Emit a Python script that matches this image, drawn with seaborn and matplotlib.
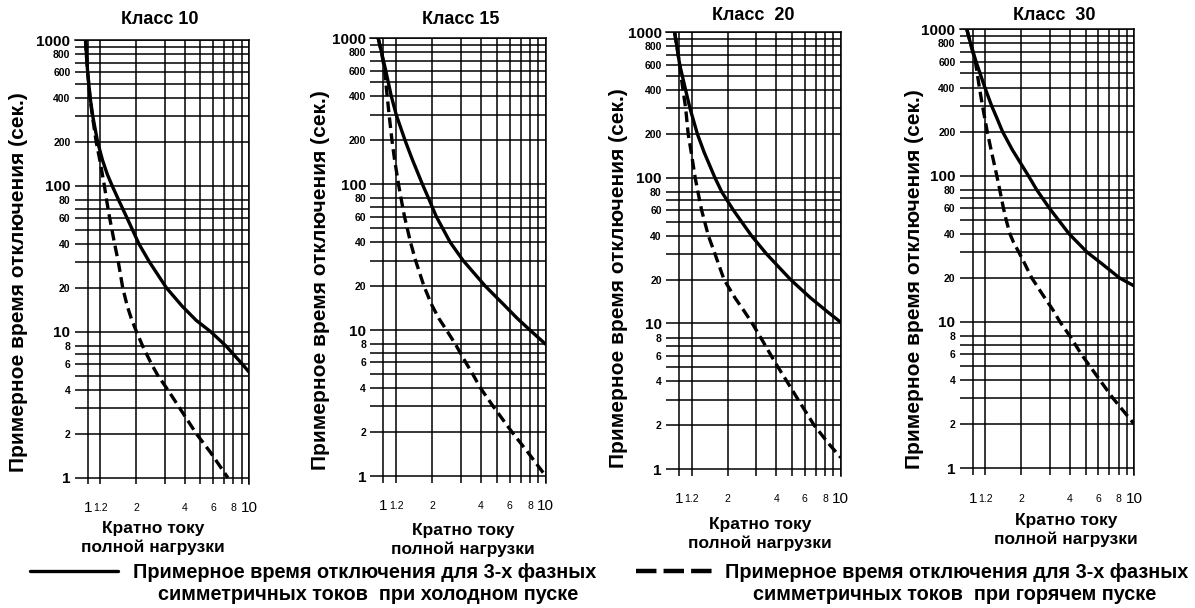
import matplotlib
matplotlib.use("Agg")
import matplotlib.pyplot as plt
import seaborn as sns
import pandas as pd
from matplotlib.ticker import FixedLocator, FixedFormatter, NullLocator
from matplotlib.lines import Line2D

# ---------------- data ----------------
titles = ["Класс 10", "Класс 15", "Класс  20", "Класс  30"]

c10_cold_y = [1000, 800, 600, 400, 300, 200, 150, 120, 100, 80, 60, 40, 30, 20, 15, 12, 10, 8, 6, 5.3]
c10_cold_x = [0.97, 0.982, 1.0, 1.037, 1.076, 1.153, 1.236, 1.324, 1.42, 1.556, 1.758, 2.08, 2.42, 3.08, 3.85, 4.7, 5.8, 7.2, 9.1, 10]
c10_hot_y = [1000, 800, 600, 400, 300, 200, 150, 100, 80, 60, 40, 30, 20, 15, 12, 10, 8, 6, 5, 4, 3, 2, 1.5, 1]
c10_hot_x = [0.97, 0.982, 1.0, 1.035, 1.07, 1.13, 1.19, 1.27, 1.31, 1.37, 1.47, 1.55, 1.65, 1.76, 1.88, 2.01, 2.19, 2.49, 2.73, 3.14, 3.72, 4.72, 5.75, 7.4]

c15_cold_y = [1000, 800, 600, 400, 300, 200, 150, 100, 80, 60, 40, 30, 20, 15, 12, 10, 8]
c15_cold_x = [0.93, 0.975, 1.035, 1.12, 1.20, 1.36, 1.50, 1.74, 1.90, 2.12, 2.58, 3.10, 4.25, 5.5, 6.7, 8.0, 10]
c15_hot_y = [1000, 800, 600, 450, 300, 200, 150, 100, 80, 60, 40, 30, 20, 15, 12, 10, 8, 6, 5, 4, 3, 2, 1.5, 1]
c15_hot_x = [0.93, 0.975, 1.02, 1.045, 1.085, 1.13, 1.17, 1.24, 1.285, 1.35, 1.47, 1.58, 1.78, 1.98, 2.2, 2.45, 2.78, 3.22, 3.55, 3.97, 4.75, 6.2, 7.6, 10]

c20_cold_y = [1000, 800, 600, 400, 300, 200, 150, 100, 80, 60, 40, 30, 20, 15, 12, 10.2]
c20_cold_x = [0.94, 0.97, 1.01, 1.10, 1.17, 1.30, 1.43, 1.67, 1.84, 2.17, 2.81, 3.48, 4.9, 6.5, 8.3, 10]
c20_hot_y = [1000, 800, 600, 500, 400, 300, 200, 150, 100, 80, 60, 40, 30, 20, 15, 12, 10, 8, 6, 5, 4, 3, 2, 1.5, 1.2]
c20_hot_x = [0.94, 0.97, 1.01, 1.03, 1.06, 1.10, 1.14, 1.19, 1.26, 1.31, 1.38, 1.52, 1.67, 1.90, 2.22, 2.55, 2.84, 3.2, 3.72, 4.1, 4.65, 5.45, 6.85, 8.4, 10]

c30_cold_y = [1000, 800, 600, 400, 300, 250, 200, 150, 100, 80, 60, 40, 30, 25, 20, 17.6]
c30_cold_x = [0.92, 0.97, 1.05, 1.19, 1.31, 1.406, 1.53, 1.76, 2.21, 2.49, 2.98, 3.95, 5.1, 6.3, 8.1, 10]
c30_hot_y = [1000, 800, 600, 400, 300, 200, 150, 100, 80, 60, 50, 40, 35, 30, 25, 20, 15, 12, 10, 8, 6, 5, 4, 3, 2]
c30_hot_x = [0.92, 0.97, 1.04, 1.10, 1.15, 1.23, 1.30, 1.41, 1.47, 1.55, 1.61, 1.70, 1.79, 1.93, 2.10, 2.32, 2.75, 3.15, 3.47, 4.0, 4.71, 5.3, 6.13, 7.4, 10]

y_ticks = [1, 2, 3, 4, 5, 6, 7, 8, 10, 20, 30, 40, 50, 60, 70, 80,
           100, 200, 300, 400, 500, 600, 700, 800, 900, 1000]
y_ticklabels = ["1", "2", "", "4", "", "6", "", "8", "10", "20", "", "40", "", "60", "", "80",
                "100", "200", "", "400", "", "600", "", "800", "", "1000"]
x_ticks = [1, 1.2, 2, 3, 4, 5, 6, 7, 8, 9, 10]
x_ticklabels = ["1", "1.2", "2", "", "4", "", "6", "", "8", "", "10"]
big_labels = ["1", "10", "100", "1000"]

y_label = "Примерное время отключения (сек.)"
x_label = "Кратно току\nполной нагрузки"
legend_cold = ["Примерное время отключения для 3-х фазных", "симметричных токов  при холодном пуске"]
legend_hot = ["Примерное время отключения для 3-х фазных", "симметричных токов  при горячем пуске"]

curves = [
    (c10_cold_x, c10_cold_y, c10_hot_x, c10_hot_y),
    (c15_cold_x, c15_cold_y, c15_hot_x, c15_hot_y),
    (c20_cold_x, c20_cold_y, c20_hot_x, c20_hot_y),
    (c30_cold_x, c30_cold_y, c30_hot_x, c30_hot_y),
]

# ---------------- layout (pixels) ----------------
W, H = 1195, 608
panel_px = [(74.6, 249.0, 40.0, 484.4),
            (370.2, 545.7, 38.3, 482.7),
            (665.9, 840.7, 32.3, 475.7),
            (959.6, 1134.3, 29.3, 475.0)]
title_px = [(160, 20), (461, 20), (753, 15), (1054, 15)]
ylab_px = [(19, 282), (320, 280), (618, 278), (914, 279)]
xlab_px = [(153, 538), (463, 540), (760, 534), (1066, 530)]


def fx(x):
    return x / W


def fy(y):
    return 1 - y / H


sns.set_theme(style="white")
plt.rcParams["font.family"] = ["Liberation Sans", "DejaVu Sans"]
for key in ["text.color", "axes.labelcolor", "xtick.color", "ytick.color"]:
    plt.rcParams[key] = "black"

fig = plt.figure(figsize=(W / 100, H / 100), dpi=100)
fig.patch.set_facecolor("white")

for i in range(4):
    l, r, t, b = panel_px[i]
    ax = fig.add_axes([fx(l), fy(b), (r - l) / W, (b - t) / H])
    cx, cy, hx, hy = curves[i]
    df = pd.concat([
        pd.DataFrame({"x": cx, "y": cy, "mode": "cold"}),
        pd.DataFrame({"x": hx, "y": hy, "mode": "hot"}),
    ], ignore_index=True)
    sns.lineplot(data=df, x="x", y="y", style="mode", style_order=["cold", "hot"],
                 dashes={"cold": "", "hot": (3.2, 1.6)}, color="black", linewidth=2.4,
                 estimator=None, sort=False, legend=False, ax=ax, zorder=3)
    ax.set_xscale("log")
    ax.set_yscale("log")
    ax.set_xlim(0.83, 10)
    ax.set_ylim(0.9, 1000)
    ax.xaxis.set_major_locator(FixedLocator(x_ticks))
    ax.xaxis.set_major_formatter(FixedFormatter(x_ticklabels))
    ax.xaxis.set_minor_locator(NullLocator())
    ax.yaxis.set_major_locator(FixedLocator(y_ticks))
    ax.yaxis.set_major_formatter(FixedFormatter(y_ticklabels))
    ax.yaxis.set_minor_locator(NullLocator())
    ax.grid(True, which="major", color="black", linewidth=1.1)
    ax.set_axisbelow(True)
    for side in ["left", "bottom"]:
        ax.spines[side].set_visible(False)
    for side in ["top", "right"]:
        ax.spines[side].set_visible(True)
        ax.spines[side].set_color("black")
        ax.spines[side].set_linewidth(1.1)
    ax.set_xlabel("")
    ax.set_ylabel("")
    ax.tick_params(axis="both", length=0)
    ax.tick_params(axis="y", pad=3)
    ax.tick_params(axis="x", pad=17)
    fig.canvas.draw()
    for lab in ax.get_yticklabels():
        if lab.get_text() in big_labels:
            lab.set_fontsize(11)
        else:
            lab.set_fontsize(7.5)
        lab.set_fontweight("bold")
        lab.set_color("black")
    for lab in ax.get_xticklabels():
        lab.set_va("center")
        if lab.get_text() in big_labels:
            lab.set_fontsize(11)
        else:
            lab.set_fontsize(7.5)
        lab.set_color("black")

    tx, ty = title_px[i]
    fig.text(fx(tx), fy(ty), titles[i], ha="center", va="center",
             fontsize=13, fontweight="bold", color="black")
    lx, ly = ylab_px[i]
    fig.text(fx(lx), fy(ly), y_label, ha="center", va="center", rotation=90,
             fontsize=15, fontweight="bold", color="black")
    xx, xy = xlab_px[i]
    fig.text(fx(xx), fy(xy), x_label, ha="center", va="center", multialignment="center",
             fontsize=12.5, fontweight="bold", color="black", linespacing=1.25)

# ---------------- legend ----------------
fs = 14.3
fs_px = fs * 100 / 72
h_cold = Line2D([], [], color="black", linewidth=2.4)
h_hot = Line2D([], [], color="black", linewidth=3.2, dashes=(4.6, 1.6))
leg1 = fig.legend([h_cold], [legend_cold[0]], loc="center left",
                  bbox_to_anchor=(fx(30), fy(572)), frameon=False, borderpad=0,
                  borderaxespad=0, handlelength=88 / fs_px, handletextpad=15 / fs_px,
                  prop={"size": fs, "weight": "bold"}, labelcolor="black")
leg2 = fig.legend([h_hot], [legend_hot[0]], loc="center left",
                  bbox_to_anchor=(fx(636), fy(572)), frameon=False, borderpad=0,
                  borderaxespad=0, handlelength=76 / fs_px, handletextpad=13 / fs_px,
                  prop={"size": fs, "weight": "bold"}, labelcolor="black")
fig.text(fx(368), fy(595), legend_cold[1], ha="center", va="center",
         fontsize=fs, fontweight="bold", color="black")
fig.text(fx(955), fy(595), legend_hot[1], ha="center", va="center",
         fontsize=fs, fontweight="bold", color="black")

fig.savefig("out.png", dpi=100, facecolor="white")
